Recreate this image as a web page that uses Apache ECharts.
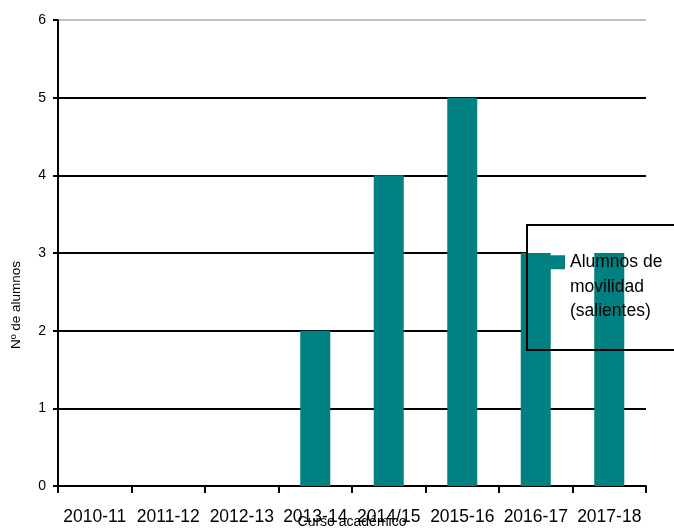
<!DOCTYPE html>
<html>
<head>
<meta charset="utf-8">
<script src="https://cdn.jsdelivr.net/npm/echarts@6/dist/echarts.min.js"></script>
<style>html,body{margin:0;padding:0;background:#fff}#c{width:674px;height:529px}</style>
</head>
<body>
<div id="c"></div>
<script>
var categories = ['2010-11','2011-12','2012-13','2013-14','2014/15','2015-16','2016-17','2017-18'];
var values = [0, 0, 0, 2, 4, 5, 3, 3];
var seriesName = 'Alumnos de movilidad (salientes)';
var yTicks = [0, 1, 2, 3, 4, 5, 6];
var FONT = '"Liberation Sans", Arial, sans-serif';

var chart = echarts.init(document.getElementById('c'));
chart.setOption({
  animation: false,
  backgroundColor: '#fff',
  grid: { left: 58, right: 28, top: 20, bottom: 43, outerBoundsMode: 'none', containLabel: false },
  legend: {
    left: 550, top: 201, padding: 0,
    icon: 'rect', itemWidth: 15, itemHeight: 14, itemGap: 0,
    data: [seriesName],
    formatter: function () { return '\n\nAlumnos de\nmovilidad\n(salientes)'; },
    textStyle: { fontFamily: FONT, fontSize: 17.5, color: '#000', lineHeight: 24.5 }
  },
  graphic: [
    { type: 'rect', z: 1, shape: { x: 527, y: 225, width: 160, height: 125 },
      style: { fill: '#fff', stroke: null } },
    { type: 'rect', z: 3, shape: { x: 527, y: 225, width: 160, height: 125 },
      style: { fill: null, stroke: '#000', lineWidth: 2 } },
    { type: 'text', z: 5, x: 16, y: 305, rotation: Math.PI / 2,
      style: { text: 'Nº de alumnos', fontFamily: FONT, fontSize: 13.5, fill: '#000', align: 'center', verticalAlign: 'middle' } },
    { type: 'text', z: 5, x: 352, y: 522,
      style: { text: 'Curso académico', fontFamily: FONT, fontSize: 14, fill: '#000', align: 'center', verticalAlign: 'middle' } }
  ],
  xAxis: {
    type: 'category', data: categories, boundaryGap: true,
    axisLine: { lineStyle: { color: '#000', width: 2 } },
    axisTick: { show: true, length: 7, lineStyle: { color: '#000', width: 2 } },
    axisLabel: { fontFamily: FONT, fontSize: 17.5, color: '#000', margin: 22, interval: 0 }
  },
  yAxis: {
    type: 'value', min: 0, max: 6, interval: 1,
    axisLine: { show: true, lineStyle: { color: '#000', width: 2 } },
    axisTick: { show: true, length: 5, lineStyle: { color: '#000', width: 2 } },
    axisLabel: { fontFamily: FONT, fontSize: 14, color: '#000', margin: 12,
      formatter: function (v) { return yTicks.indexOf(v) >= 0 ? String(v) : ''; } },
    splitLine: { show: true, lineStyle: {
      color: ['#000', '#000', '#000', '#000', '#000', '#000', '#c0c0c0'], width: 2 } }
  },
  series: [{
    name: seriesName, type: 'bar', data: values, z: 2,
    barWidth: 30, itemStyle: { color: '#008080' }
  }]
});
</script>
</body>
</html>
